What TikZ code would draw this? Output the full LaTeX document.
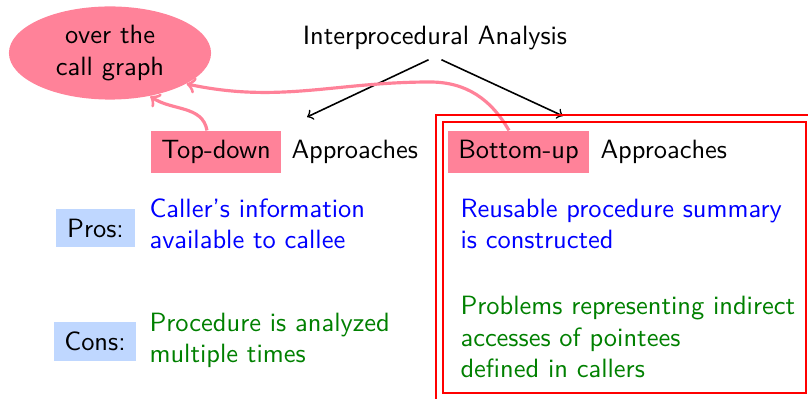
\documentclass[tikz,border=0pt]{standalone}
\usetikzlibrary{shapes.geometric}

\definecolor{notepink}{RGB}{255,130,153}
\definecolor{labelblue}{RGB}{191,215,255}
\definecolor{progreen}{RGB}{0,128,0}

\begin{document}
\begin{tikzpicture}[x=0.378pt,y=-0.378pt,
  every node/.style={font=\sffamily},
  tagbox/.style={fill=notepink, inner xsep=3.9pt, minimum height=15.9pt},
  sidelabel/.style={fill=labelblue, inner xsep=4.1pt, minimum height=14.5pt},
  note/.style={align=left, inner sep=0pt, anchor=base west},
  plain/.style={inner sep=0pt, anchor=base west},
  connector/.style={->, semithick},
  feedback/.style={->, very thick, draw=notepink},
  frame/.style={draw=red}]
\useasboundingbox (0,0) rectangle (808,399);
\clip (0,0) rectangle (808,399);

% heading and the call-graph bubble
\node[anchor=base] (title) at (435,45) {Interprocedural Analysis};
\node[ellipse, fill=notepink, minimum width=76.4pt, minimum height=35.2pt,
      inner sep=0pt, align=center] (cg) at (110,53) {over the\\call graph};

% the two families of approaches
\node[tagbox] (td) at (216,152) {Top-down};
\node[plain] (tdA) at (291,158.5) {Approaches};
\node[tagbox] (bu) at (518.5,152) {Bottom-up};
\node[plain] (buA) at (600,158.5) {Approaches};

% pros and cons (a multi-line note sits on the baseline of its last line)
\node[sidelabel] (pros) at (95.5,228) {Pros:};
\node[sidelabel] (cons) at (95,341.5) {Cons:};
\node[note, text=blue] (tdPro) at (149,249) {Caller's information\\available to callee};
\node[note, text=progreen] (tdCon) at (149,363) {Procedure is analyzed\\multiple times};
\node[note, text=blue] (buPro) at (460,249) {Reusable procedure summary\\is constructed};
\node[note, text=progreen] (buCon) at (460,378) {Problems representing indirect\\accesses of pointees\\defined in callers};

% branching arrows from the heading
\coordinate (tdTip) at (307,117);
\coordinate (buTip) at (563,116);
\draw[connector] ([xshift=-2.45pt]title.south) -- (tdTip);
\draw[connector] ([xshift=2.45pt]title.south) -- (buTip);

% both approaches work over the call graph
\coordinate (crest) at (430,82);
\draw[feedback] ([xshift=-3.4pt]td.north) to[out=100,in=-35] (cg.-47);
\draw[feedback] ([xshift=-3.6pt]bu.north) to[out=120,in=0] (crest)
  to[out=180,in=-12] (cg.-22);

% highlight frame around the bottom-up column
\draw[frame, semithick] (436,115) rectangle (815,405);
\draw[frame, line width=0.9pt] (443,122) rectangle (806,393);
\end{tikzpicture}
\end{document}
